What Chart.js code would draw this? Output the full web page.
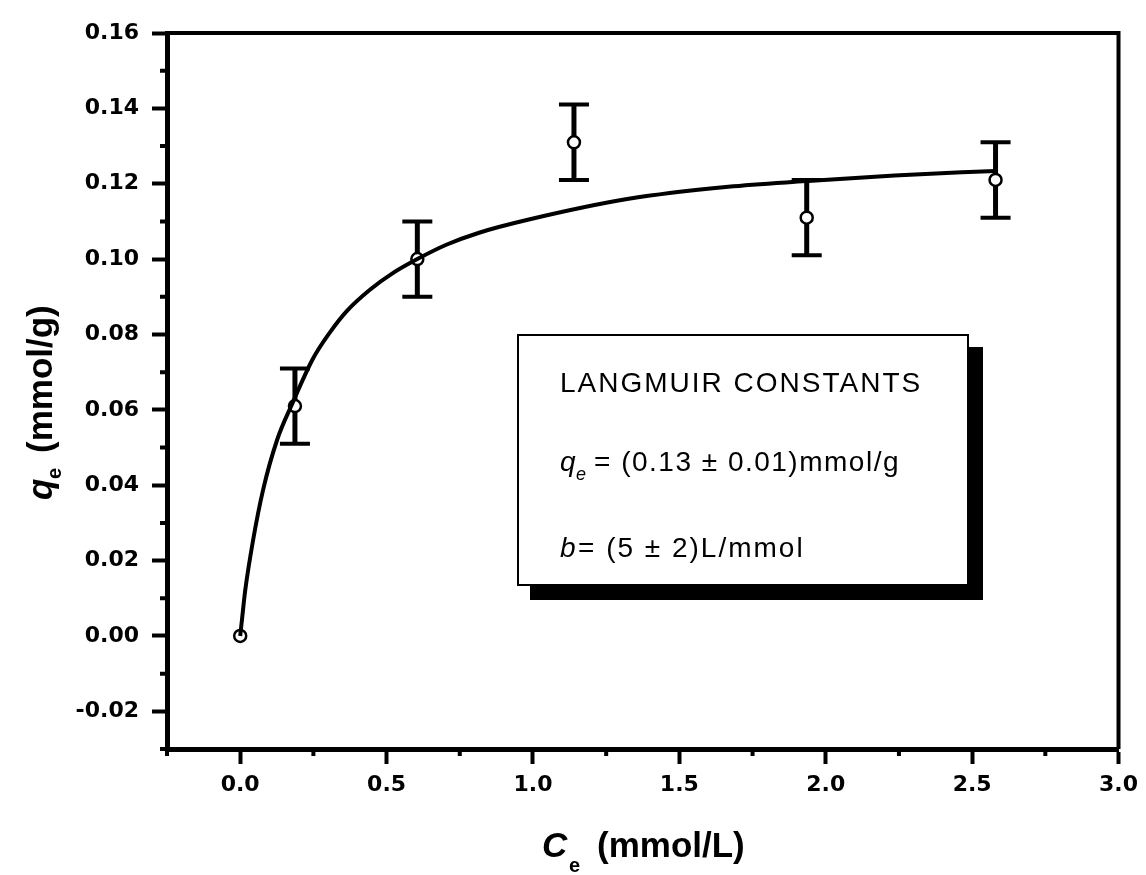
<!DOCTYPE html>
<html>
<head>
<meta charset="utf-8">
<title>Langmuir isotherm</title>
<script src="https://cdn.jsdelivr.net/npm/chart.js@4.4.1/dist/chart.umd.min.js"></script>
<style>
    html, body { margin: 0; padding: 0; background: #fff; }
    canvas { display: block; }
</style>
</head>
<body>
<canvas id="myChart" width="1146" height="875"></canvas>
<script>
/* data */
const ceValues = [0, 0.187, 0.605, 1.14, 1.935, 2.58];
const qeValues = [0, 0.061, 0.100, 0.131, 0.111, 0.121];
const qeErrors = [0, 0.010, 0.010, 0.010, 0.010, 0.010];

/* fitted langmuir curve */
const fitCe = [0, 0.007, 0.017, 0.044, 0.078, 0.126, 0.177, 0.248, 0.306, 0.364, 0.442, 0.52, 0.605, 0.704, 0.816, 0.986, 1.327, 1.667, 1.932, 2.235, 2.58];
const fitQe = [0, 0.005, 0.012, 0.0254, 0.0387, 0.052, 0.0615, 0.0735, 0.0805, 0.0862, 0.0918, 0.0962, 0.1000, 0.1038, 0.1070, 0.1105, 0.1160, 0.1192, 0.1207, 0.1222, 0.1234];

/* axes */
const xMajor = [0, 0.5, 1.0, 1.5, 2.0, 2.5, 3.0];
const xTickLabels = ['0.0', '0.5', '1.0', '1.5', '2.0', '2.5', '3.0'];
const yMajor = [-0.02, 0, 0.02, 0.04, 0.06, 0.08, 0.10, 0.12, 0.14, 0.16];
const yTickLabels = ['-0.02', '0.00', '0.02', '0.04', '0.06', '0.08', '0.10', '0.12', '0.14', '0.16'];

const boxLines = ['LANGMUIR CONSTANTS', '= (0.13 ± 0.01)mmol/g', '= (5 ± 2)L/mmol'];

function majorIndex(list, v) {
    return list.findIndex(function(m) { return Math.abs(m - v) < 1e-9; });
}

const tickFont = { family: '"DejaVu Sans"', size: 22, weight: 'bold' };

/* error bars, frame, titles, inset */
const extras = {
    id: 'extras',
    beforeDatasetDraw(chart, args) {
        if (args.index !== 1) return;
        const x = chart.scales.x, y = chart.scales.y, ctx = chart.ctx;
        ctx.save();
        ctx.strokeStyle = '#000';
        for (let i = 0; i < ceValues.length; i++) {
            if (!qeErrors[i]) continue;
            const px = x.getPixelForValue(ceValues[i]);
            const top = y.getPixelForValue(qeValues[i] + qeErrors[i]);
            const bot = y.getPixelForValue(qeValues[i] - qeErrors[i]);
            ctx.lineWidth = 5;
            ctx.beginPath();
            ctx.moveTo(px, top);
            ctx.lineTo(px, bot);
            ctx.stroke();
            ctx.lineWidth = 4;
            ctx.beginPath();
            ctx.moveTo(px - 15, top); ctx.lineTo(px + 15, top);
            ctx.moveTo(px - 15, bot); ctx.lineTo(px + 15, bot);
            ctx.stroke();
        }
        ctx.restore();
    },
    afterDraw(chart) {
        const ctx = chart.ctx, a = chart.chartArea;
        const x = chart.scales.x, y = chart.scales.y;
        ctx.save();
        ctx.fillStyle = '#000';
        ctx.strokeStyle = '#000';

        // top and right frame
        ctx.lineWidth = 4;
        ctx.beginPath();
        ctx.moveTo(a.left, a.top);
        ctx.lineTo(a.right, a.top);
        ctx.lineTo(a.right, a.bottom);
        ctx.stroke();

        // minor ticks
        ctx.lineWidth = 4;
        ctx.beginPath();
        x.ticks.forEach(function(t) {
            if (majorIndex(xMajor, t.value) >= 0) return;
            const px = x.getPixelForValue(t.value);
            ctx.moveTo(px, a.bottom);
            ctx.lineTo(px, a.bottom + 7);
        });
        y.ticks.forEach(function(t) {
            if (majorIndex(yMajor, t.value) >= 0) return;
            const py = y.getPixelForValue(t.value);
            ctx.moveTo(a.left, py);
            ctx.lineTo(a.left - 7, py);
        });
        ctx.stroke();

        // x title
        ctx.textBaseline = 'alphabetic';
        ctx.font = 'italic bold 35px "Liberation Sans"';
        ctx.fillText('C', 542, 857);
        ctx.font = 'bold 20px "Liberation Sans"';
        ctx.fillText('e', 569, 872);
        ctx.font = 'bold 35px "Liberation Sans"';
        ctx.fillText('(mmol/L)', 597, 857);

        // y title
        ctx.save();
        ctx.translate(52, 500);
        ctx.rotate(-Math.PI / 2);
        ctx.font = 'italic bold 35px "Liberation Sans"';
        ctx.fillText('q', 0, 0);
        ctx.font = 'bold 20px "Liberation Sans"';
        ctx.fillText('e', 21, 9);
        ctx.font = 'bold 35px "Liberation Sans"';
        ctx.fillText('(mmol/g)', 47, 0);
        ctx.restore();

        // inset box with shadow
        const bx = a.left + 351, by = a.top + 302, bw = 450, bh = 250;
        ctx.fillRect(bx + 12, by + 12, bw + 3, bh + 3);
        ctx.fillStyle = '#fff';
        ctx.fillRect(bx, by, bw, bh);
        ctx.lineWidth = 2;
        ctx.strokeRect(bx, by, bw, bh);

        ctx.fillStyle = '#000';
        ctx.letterSpacing = '2px';
        ctx.font = '28px "Liberation Sans"';
        ctx.fillText(boxLines[0], bx + 42, by + 57);
        ctx.font = 'italic 28px "Liberation Sans"';
        ctx.fillText('q', bx + 42, by + 136);
        ctx.font = 'italic 18px "Liberation Sans"';
        ctx.fillText('e', bx + 58, by + 145);
        ctx.font = '28px "Liberation Sans"';
        ctx.letterSpacing = '1.5px';
        ctx.fillText(boxLines[1], bx + 76, by + 136);
        ctx.font = 'italic 28px "Liberation Sans"';
        ctx.letterSpacing = '2px';
        ctx.fillText('b', bx + 42, by + 222);
        ctx.font = '28px "Liberation Sans"';
        ctx.fillText(boxLines[2], bx + 60, by + 222);
        ctx.restore();
    }
};

const ctx = document.getElementById('myChart');
const myChart = new Chart(ctx, {
    type: 'scatter',
    data: {
        datasets: [{
            data: fitCe.map(function(c, i) { return { x: c, y: fitQe[i] }; }),
            showLine: true,
            pointRadius: 0,
            borderColor: '#000',
            borderWidth: 4,
            cubicInterpolationMode: 'monotone'
        }, {
            data: ceValues.map(function(c, i) { return { x: c, y: qeValues[i] }; }),
            showLine: false,
            pointRadius: 6,
            pointBorderWidth: 2.5,
            backgroundColor: '#fff',
            borderColor: '#000'
        }]
    },
    options: {
        responsive: false,
        animation: false,
        layout: { padding: { top: 33, right: 24, left: 0, bottom: 0 } },
        plugins: {
            legend: { display: false },
            tooltip: { enabled: false }
        },
        scales: {
            x: {
                type: 'linear',
                min: -0.25,
                max: 3.0,
                afterFit: function(scale) { scale.height = 126; },
                border: { color: '#000', width: 5 },
                grid: {
                    drawOnChartArea: false,
                    tickLength: 15,
                    tickWidth: 4,
                    tickColor: function(c) {
                        return c.tick && majorIndex(xMajor, c.tick.value) >= 0 ? '#000' : 'rgba(0,0,0,0)';
                    }
                },
                ticks: {
                    stepSize: 0.25,
                    autoSkip: false,
                    maxRotation: 0,
                    padding: 8,
                    color: '#000',
                    font: tickFont,
                    callback: function(v) {
                        const i = majorIndex(xMajor, v);
                        return i >= 0 ? xTickLabels[i] : '';
                    }
                }
            },
            y: {
                min: -0.03,
                max: 0.16,
                afterFit: function(scale) { scale.width = 167; },
                border: { color: '#000', width: 5 },
                grid: {
                    drawOnChartArea: false,
                    tickLength: 15,
                    tickWidth: 4,
                    tickColor: function(c) {
                        return c.tick && majorIndex(yMajor, c.tick.value) >= 0 ? '#000' : 'rgba(0,0,0,0)';
                    }
                },
                ticks: {
                    stepSize: 0.01,
                    autoSkip: false,
                    padding: 13,
                    color: '#000',
                    font: tickFont,
                    callback: function(v) {
                        const i = majorIndex(yMajor, v);
                        return i >= 0 ? yTickLabels[i] : '';
                    }
                }
            }
        }
    },
    plugins: [extras]
});
</script>
</body>
</html>
